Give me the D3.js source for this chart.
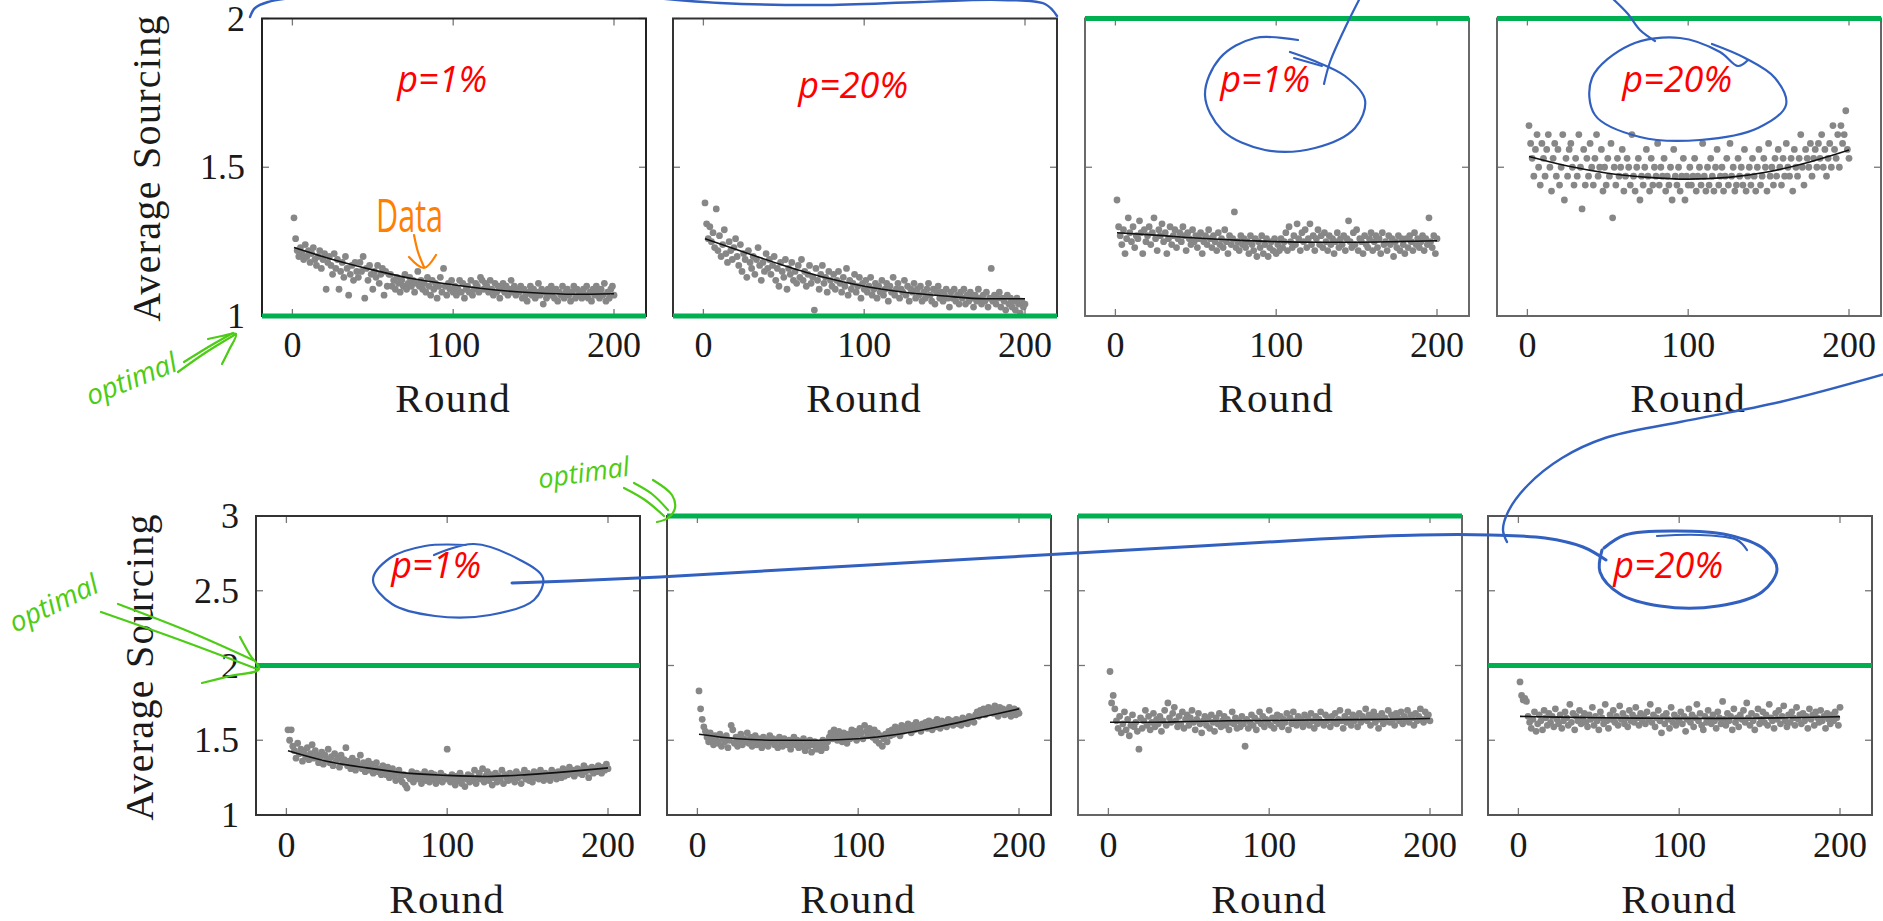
<!DOCTYPE html>
<html>
<head>
<meta charset="utf-8">
<script src="https://cdn.jsdelivr.net/npm/d3@7"></script>
<style>
  body { margin: 0; background: #fff; }
  svg { display: block; }
</style>
</head>
<body>
<svg id="chart" width="1883" height="921"></svg>
<script>
// ---- data ----
const rounds = d3.range(1, 201);
const xTicks = [0, 100, 200];
const topYTicks = [1, 1.5, 2];
const bottomYTicks = [1, 1.5, 2, 2.5, 3];
const trendRounds = [1, 25, 50, 75, 100, 125, 150, 175, 200];

// top row, average sourcing per round
const top1 = [
  1.33,1.26,1.22,1.20,1.23,1.21,1.19,1.24,1.20,1.22,1.18,1.21,1.23,1.19,1.17,1.20,1.22,1.16,1.19,1.21,
  1.09,1.18,1.20,1.17,1.14,1.21,1.16,1.19,1.09,1.15,1.18,1.13,1.20,1.16,1.07,1.14,1.17,1.12,1.18,1.15,
  1.13,1.18,1.15,1.20,1.06,1.16,1.12,1.17,1.14,1.09,1.15,1.13,1.17,1.11,1.14,1.16,1.07,1.15,1.10,1.14,
  1.14,1.10,1.12,1.09,1.13,1.11,1.08,1.12,1.10,1.14,1.09,1.11,1.13,1.10,1.12,1.08,1.11,1.15,1.10,1.12,
  1.09,1.11,1.08,1.13,1.10,1.07,1.12,1.09,1.11,1.06,1.10,1.13,1.08,1.16,1.10,1.07,1.11,1.09,1.12,1.08,
  1.10,1.07,1.09,1.12,1.08,1.11,1.06,1.09,1.10,1.08,1.12,1.07,1.09,1.11,1.10,1.08,1.13,1.12,1.09,1.11,
  1.10,1.08,1.12,1.09,1.07,1.11,1.08,1.10,1.06,1.09,1.11,1.08,1.10,1.07,1.09,1.12,1.08,1.10,1.07,1.09,
  1.08,1.10,1.06,1.09,1.07,1.05,1.08,1.10,1.07,1.09,1.06,1.08,1.11,1.07,1.09,1.04,1.08,1.06,1.09,1.07,
  1.10,1.08,1.06,1.09,1.05,1.08,1.07,1.10,1.06,1.08,1.09,1.07,1.05,1.08,1.10,1.06,1.09,1.07,1.08,1.06,
  1.09,1.07,1.10,1.06,1.08,1.05,1.09,1.07,1.10,1.08,1.06,1.09,1.07,1.11,1.05,1.08,1.06,1.09,1.10,1.07
];
const top2 = [
  1.38,1.31,1.26,1.30,1.25,1.28,1.23,1.36,1.22,1.27,1.20,1.24,1.29,1.21,1.18,1.25,1.22,1.19,1.23,1.26,
  1.20,1.17,1.24,1.15,1.21,1.19,1.13,1.22,1.18,1.16,1.20,1.14,1.19,1.23,1.17,1.12,1.18,1.15,1.21,1.16,
  1.19,1.14,1.17,1.20,1.12,1.16,1.10,1.18,1.15,1.13,1.19,1.09,1.16,1.14,1.18,1.12,1.15,1.11,1.17,1.13,
  1.19,1.12,1.15,1.10,1.14,1.17,1.11,1.13,1.02,1.16,1.12,1.09,1.14,1.17,1.11,1.13,1.08,1.15,1.12,1.10,
  1.14,1.09,1.12,1.15,1.11,1.08,1.13,1.10,1.16,1.07,1.12,1.09,1.11,1.14,1.08,1.10,1.13,1.06,1.11,1.09,
  1.12,1.08,1.10,1.13,1.07,1.09,1.11,1.06,1.10,1.08,1.12,1.07,1.09,1.11,1.05,1.10,1.08,1.13,1.07,1.09,
  1.11,1.06,1.09,1.08,1.12,1.07,1.10,1.05,1.09,1.08,1.11,1.06,1.09,1.07,1.10,1.05,1.08,1.06,1.09,1.11,
  1.07,1.05,1.09,1.04,1.08,1.10,1.06,1.08,1.05,1.07,1.09,1.06,1.03,1.08,1.06,1.09,1.05,1.07,1.04,1.08,
  1.06,1.09,1.04,1.07,1.05,1.08,1.06,1.03,1.07,1.05,1.09,1.06,1.04,1.07,1.05,1.08,1.03,1.06,1.16,1.05,
  1.07,1.04,1.06,1.08,1.03,1.06,1.05,1.02,1.07,1.04,1.06,1.03,1.05,1.02,1.06,1.04,1.01,1.05,1.03,1.04
];
const top3 = [
  1.39,1.30,1.27,1.24,1.29,1.21,1.26,1.33,1.28,1.25,1.30,1.23,1.27,1.26,1.32,1.28,1.21,1.29,1.25,1.27,
  1.30,1.24,1.28,1.33,1.26,1.22,1.29,1.27,1.31,1.25,1.28,1.21,1.26,1.30,1.24,1.27,1.29,1.23,1.26,1.28,
  1.25,1.30,1.27,1.22,1.28,1.26,1.24,1.29,1.25,1.27,1.23,1.26,1.28,1.21,1.25,1.27,1.24,1.29,1.26,1.23,
  1.27,1.25,1.22,1.28,1.24,1.26,1.23,1.29,1.25,1.21,1.27,1.24,1.26,1.35,1.23,1.25,1.22,1.27,1.24,1.26,
  1.23,1.25,1.21,1.27,1.24,1.22,1.26,1.20,1.25,1.23,1.27,1.21,1.24,1.26,1.20,1.23,1.25,1.22,1.26,1.21,
  1.24,1.22,1.26,1.23,1.25,1.28,1.22,1.30,1.25,1.23,1.27,1.24,1.31,1.26,1.22,1.28,1.25,1.29,1.23,1.26,
  1.31,1.24,1.27,1.22,1.26,1.29,1.24,1.27,1.23,1.28,1.25,1.22,1.27,1.24,1.26,1.21,1.25,1.28,1.23,1.26,
  1.24,1.27,1.22,1.26,1.32,1.25,1.23,1.28,1.24,1.29,1.22,1.26,1.25,1.21,1.27,1.24,1.23,1.26,1.28,1.22,
  1.25,1.27,1.23,1.26,1.21,1.28,1.24,1.25,1.22,1.27,1.24,1.26,1.20,1.25,1.23,1.27,1.22,1.26,1.24,1.21,
  1.26,1.23,1.27,1.25,1.22,1.28,1.24,1.26,1.23,1.25,1.27,1.22,1.26,1.24,1.33,1.25,1.23,1.27,1.21,1.26
];
const top4 = [
  1.64,1.58,1.53,1.47,1.56,1.61,1.50,1.44,1.58,1.53,1.47,1.56,1.61,1.50,1.42,1.53,1.58,1.47,1.56,1.44,
  1.50,1.61,1.39,1.53,1.47,1.56,1.58,1.50,1.44,1.53,1.47,1.61,1.50,1.36,1.56,1.44,1.53,1.47,1.58,1.50,
  1.44,1.53,1.61,1.47,1.50,1.56,1.42,1.50,1.44,1.53,1.47,1.58,1.33,1.50,1.44,1.53,1.47,1.50,1.56,1.42,
  1.47,1.53,1.50,1.44,1.61,1.47,1.42,1.50,1.53,1.39,1.47,1.44,1.50,1.56,1.47,1.42,1.53,1.44,1.50,1.47,
  1.58,1.44,1.50,1.47,1.53,1.42,1.47,1.44,1.50,1.39,1.56,1.47,1.44,1.50,1.42,1.47,1.53,1.39,1.47,1.44,
  1.50,1.44,1.47,1.53,1.42,1.47,1.50,1.44,1.58,1.47,1.42,1.50,1.44,1.53,1.47,1.42,1.50,1.56,1.44,1.47,
  1.50,1.42,1.47,1.53,1.44,1.58,1.47,1.50,1.42,1.44,1.53,1.47,1.50,1.44,1.56,1.42,1.47,1.50,1.44,1.53,
  1.47,1.42,1.50,1.56,1.44,1.47,1.53,1.50,1.42,1.58,1.47,1.50,1.44,1.53,1.47,1.56,1.50,1.44,1.53,1.47,
  1.58,1.50,1.47,1.53,1.42,1.56,1.50,1.47,1.53,1.61,1.50,1.44,1.56,1.53,1.50,1.58,1.47,1.53,1.56,1.50,
  1.58,1.53,1.61,1.50,1.56,1.47,1.53,1.58,1.50,1.64,1.56,1.53,1.61,1.50,1.64,1.58,1.61,1.69,1.56,1.53
];

// bottom row
const bottom1 = [
  1.57,1.50,1.57,1.46,1.43,1.38,1.48,1.41,1.44,1.36,1.42,1.39,1.45,1.37,1.41,1.47,1.38,1.43,1.40,1.35,
  1.39,1.42,1.34,1.40,1.37,1.44,1.35,1.39,1.33,1.41,1.36,1.38,1.32,1.40,1.35,1.37,1.45,1.33,1.36,1.31,
  1.38,1.34,1.30,1.36,1.33,1.40,1.31,1.35,1.29,1.33,1.36,1.30,1.34,1.28,1.32,1.35,1.29,1.31,1.27,1.33,
  1.30,1.27,1.32,1.25,1.29,1.31,1.26,1.23,1.28,1.30,1.25,1.22,1.27,1.20,1.18,1.26,1.24,1.29,1.22,1.26,
  1.28,1.24,1.27,1.21,1.25,1.29,1.23,1.26,1.22,1.28,1.24,1.27,1.21,1.25,1.23,1.28,1.22,1.26,1.24,1.44,
  1.25,1.22,1.27,1.24,1.20,1.26,1.23,1.28,1.21,1.25,1.19,1.24,1.27,1.22,1.26,1.23,1.30,1.21,1.25,1.28,
  1.24,1.31,1.22,1.26,1.29,1.23,1.27,1.20,1.25,1.28,1.22,1.26,1.24,1.30,1.21,1.27,1.25,1.23,1.28,1.24,
  1.26,1.22,1.29,1.25,1.27,1.21,1.26,1.30,1.24,1.28,1.23,1.26,1.22,1.29,1.25,1.27,1.24,1.30,1.26,1.23,
  1.28,1.25,1.27,1.23,1.30,1.26,1.28,1.24,1.29,1.27,1.25,1.31,1.26,1.29,1.27,1.32,1.28,1.30,1.26,1.29,
  1.31,1.28,1.30,1.27,1.33,1.29,1.31,1.25,1.30,1.32,1.28,1.31,1.29,1.33,1.30,1.28,1.32,1.30,1.34,1.31
];
const bottom2 = [
  1.83,1.71,1.64,1.59,1.56,1.52,1.49,1.55,1.51,1.47,1.53,1.50,1.48,1.54,1.46,1.51,1.49,1.53,1.45,1.50,
  1.60,1.57,1.48,1.52,1.46,1.50,1.54,1.47,1.51,1.49,1.55,1.48,1.52,1.46,1.50,1.53,1.47,1.51,1.49,1.45,
  1.52,1.48,1.50,1.46,1.53,1.49,1.51,1.47,1.50,1.45,1.52,1.48,1.46,1.51,1.49,1.47,1.50,1.44,1.48,1.52,
  1.47,1.50,1.45,1.49,1.46,1.51,1.43,1.48,1.46,1.50,1.42,1.47,1.49,1.44,1.48,1.46,1.43,1.50,1.47,1.45,
  1.49,1.52,1.55,1.51,1.57,1.54,1.50,1.56,1.53,1.49,1.55,1.52,1.48,1.54,1.51,1.57,1.53,1.56,1.50,1.54,
  1.58,1.55,1.51,1.60,1.56,1.53,1.58,1.54,1.52,1.57,1.50,1.55,1.48,1.53,1.46,1.51,1.54,1.49,1.56,1.53,
  1.57,1.54,1.59,1.55,1.58,1.53,1.60,1.56,1.59,1.57,1.61,1.58,1.55,1.60,1.57,1.62,1.58,1.60,1.56,1.61,
  1.59,1.62,1.58,1.63,1.60,1.57,1.62,1.59,1.64,1.61,1.58,1.63,1.60,1.62,1.59,1.64,1.61,1.63,1.60,1.62,
  1.64,1.61,1.63,1.60,1.65,1.62,1.64,1.61,1.66,1.63,1.65,1.62,1.67,1.69,1.66,1.70,1.68,1.71,1.67,1.70,
  1.72,1.69,1.71,1.68,1.73,1.70,1.66,1.72,1.69,1.71,1.67,1.70,1.68,1.72,1.66,1.69,1.71,1.67,1.70,1.68
];
const bottom3 = [
  1.96,1.75,1.80,1.71,1.63,1.58,1.66,1.55,1.61,1.69,1.57,1.64,1.53,1.60,1.67,1.59,1.62,1.56,1.44,1.65,
  1.58,1.63,1.70,1.60,1.66,1.57,1.62,1.68,1.59,1.64,1.61,1.66,1.56,1.63,1.70,1.60,1.75,1.65,1.62,1.68,
  1.72,1.63,1.59,1.66,1.61,1.69,1.58,1.64,1.67,1.60,1.65,1.70,1.62,1.57,1.64,1.68,1.61,1.55,1.63,1.66,
  1.60,1.64,1.58,1.67,1.62,1.56,1.65,1.61,1.68,1.59,1.63,1.66,1.60,1.64,1.57,1.62,1.69,1.61,1.65,1.58,
  1.63,1.59,1.66,1.61,1.46,1.64,1.58,1.62,1.67,1.60,1.65,1.57,1.63,1.69,1.61,1.66,1.59,1.64,1.62,1.70,
  1.60,1.65,1.58,1.63,1.67,1.61,1.66,1.59,1.64,1.62,1.68,1.57,1.65,1.61,1.69,1.63,1.60,1.66,1.62,1.64,
  1.59,1.67,1.62,1.65,1.60,1.68,1.63,1.58,1.66,1.61,1.64,1.69,1.62,1.60,1.67,1.63,1.65,1.59,1.66,1.62,
  1.68,1.61,1.64,1.70,1.63,1.58,1.66,1.62,1.69,1.64,1.60,1.67,1.63,1.65,1.59,1.68,1.62,1.66,1.64,1.71,
  1.63,1.67,1.60,1.65,1.69,1.62,1.66,1.58,1.64,1.68,1.61,1.65,1.63,1.70,1.62,1.67,1.64,1.60,1.68,1.65,
  1.63,1.69,1.61,1.66,1.64,1.70,1.62,1.67,1.65,1.60,1.68,1.63,1.66,1.71,1.64,1.62,1.69,1.65,1.67,1.63
];
const bottom4 = [
  1.89,1.80,1.77,1.78,1.76,1.66,1.62,1.58,1.64,1.69,1.56,1.61,1.67,1.63,1.57,1.70,1.65,1.60,1.68,1.62,
  1.66,1.59,1.71,1.64,1.61,1.67,1.58,1.63,1.69,1.65,1.60,1.74,1.62,1.68,1.57,1.66,1.63,1.70,1.61,1.65,
  1.68,1.62,1.59,1.67,1.64,1.72,1.60,1.66,1.63,1.57,1.69,1.65,1.61,1.74,1.63,1.58,1.67,1.64,1.70,1.62,
  1.66,1.60,1.73,1.64,1.68,1.61,1.65,1.59,1.70,1.63,1.67,1.62,1.72,1.65,1.60,1.68,1.63,1.66,1.61,1.69,
  1.64,1.74,1.62,1.67,1.59,1.65,1.70,1.63,1.55,1.66,1.61,1.68,1.64,1.58,1.72,1.62,1.67,1.60,1.65,1.63,
  1.69,1.61,1.66,1.56,1.64,1.71,1.62,1.67,1.59,1.65,1.74,1.63,1.68,1.60,1.57,1.66,1.62,1.70,1.64,1.61,
  1.67,1.63,1.58,1.69,1.65,1.61,1.76,1.64,1.60,1.68,1.63,1.66,1.57,1.71,1.62,1.65,1.59,1.67,1.64,1.70,
  1.62,1.75,1.65,1.60,1.68,1.63,1.57,1.66,1.71,1.61,1.64,1.69,1.62,1.67,1.60,1.74,1.65,1.63,1.58,1.68,
  1.64,1.70,1.61,1.66,1.73,1.63,1.59,1.67,1.62,1.69,1.65,1.60,1.72,1.64,1.67,1.61,1.68,1.63,1.66,1.58,
  1.71,1.64,1.67,1.60,1.69,1.65,1.62,1.70,1.63,1.66,1.58,1.68,1.64,1.61,1.67,1.63,1.69,1.65,1.60,1.72
];

// fitted trend, read at trendRounds
const top1Trend = [1.23, 1.19, 1.155, 1.125, 1.105, 1.088, 1.078, 1.073, 1.075];
const top2Trend = [1.26, 1.215, 1.17, 1.13, 1.10, 1.08, 1.067, 1.058, 1.058];
const top3Trend = [1.28, 1.272, 1.262, 1.255, 1.25, 1.248, 1.248, 1.25, 1.253];
const top4Trend = [1.536, 1.504, 1.48, 1.466, 1.46, 1.466, 1.485, 1.517, 1.558];
const bottom1Trend = [1.43, 1.36, 1.315, 1.28, 1.265, 1.258, 1.27, 1.29, 1.315];
const bottom2Trend = [1.54, 1.51, 1.50, 1.50, 1.51, 1.54, 1.59, 1.65, 1.71];
const bottom3Trend = [1.62, 1.62, 1.625, 1.63, 1.632, 1.635, 1.638, 1.64, 1.645];
const bottom4Trend = [1.66, 1.655, 1.65, 1.648, 1.646, 1.646, 1.648, 1.652, 1.657];

// optimal sourcing level (green line) per panel
const topOptimal = [1, 1, 2, 2];
const bottomOptimal = [2, 3, 3, 2];

// red panel notes
const topNotes = ["p=1%", "p=20%", "p=1%", "p=20%"];
const bottomNotes = ["p=1%", "", "", "p=20%"];

// ---- layout ----
const svg = d3.select("#chart");
const PANEL_W = 384;
const X_DOMAIN = [-18.9, 219.9];
const SERIF = "'Liberation Serif', 'DejaVu Serif', serif";
const GREEN = "#00b050";

const rows = [
  {
    top: 18.5, bottom: 316, lefts: [262, 673, 1085, 1497],
    yDomain: [1, 2], yTicks: topYTicks, tickBase: 357, titleBase: 412,
    yTitle: {x: 160, y: 168},
    series: [top1, top2, top3, top4],
    trends: [top1Trend, top2Trend, top3Trend, top4Trend],
    optimal: topOptimal, notes: topNotes, noteBase: [92, 98, 92, 92],
    frames: ["#222", "#333", "#6a6a6a", "#666"]
  },
  {
    top: 516, bottom: 815, lefts: [256, 667, 1078, 1488],
    yDomain: [1, 3], yTicks: bottomYTicks, tickBase: 857, titleBase: 913,
    yTitle: {x: 153, y: 667},
    series: [bottom1, bottom2, bottom3, bottom4],
    trends: [bottom1Trend, bottom2Trend, bottom3Trend, bottom4Trend],
    optimal: bottomOptimal, notes: bottomNotes, noteBase: [578, 578, 578, 578],
    frames: ["#333", "#444", "#666", "#555"]
  }
];

const defs = svg.append("defs");

rows.forEach((row, ri) => {
  const y = d3.scaleLinear().domain(row.yDomain).range([row.bottom, row.top]);

  row.lefts.forEach((left, pi) => {
    const x = d3.scaleLinear().domain(X_DOMAIN).range([left, left + PANEL_W]);
    const g = svg.append("g").attr("class", "panel");
    const clipId = `clip-${ri}-${pi}`;
    defs.append("clipPath").attr("id", clipId)
      .append("rect")
      .attr("x", left).attr("y", row.top)
      .attr("width", PANEL_W).attr("height", row.bottom - row.top);

    // scatter
    g.append("g").attr("clip-path", `url(#${clipId})`)
      .selectAll("circle")
      .data(row.series[pi])
      .join("circle")
      .attr("cx", (d, i) => x(rounds[i]))
      .attr("cy", d => y(d))
      .attr("r", 3.4)
      .attr("fill", "#878787");

    // trend
    const line = d3.line()
      .x((d, i) => x(trendRounds[i]))
      .y(d => y(d))
      .curve(d3.curveMonotoneX);
    g.append("path")
      .attr("d", line(row.trends[pi]))
      .attr("fill", "none")
      .attr("stroke", "#111")
      .attr("stroke-width", 1.6);

    // ticks, inside on all four sides
    const tickG = g.append("g").attr("stroke", "#777").attr("stroke-width", 1.3);
    xTicks.forEach(t => {
      tickG.append("line").attr("x1", x(t)).attr("x2", x(t)).attr("y1", row.bottom).attr("y2", row.bottom - 7);
      tickG.append("line").attr("x1", x(t)).attr("x2", x(t)).attr("y1", row.top).attr("y2", row.top + 7);
    });
    row.yTicks.forEach(t => {
      tickG.append("line").attr("x1", left).attr("x2", left + 7).attr("y1", y(t)).attr("y2", y(t));
      tickG.append("line").attr("x1", left + PANEL_W).attr("x2", left + PANEL_W - 7).attr("y1", y(t)).attr("y2", y(t));
    });

    // frame
    g.append("rect")
      .attr("x", left).attr("y", row.top)
      .attr("width", PANEL_W).attr("height", row.bottom - row.top)
      .attr("fill", "none")
      .attr("stroke", row.frames[pi])
      .attr("stroke-width", 2);

    // optimal level
    g.append("line")
      .attr("x1", left).attr("x2", left + PANEL_W)
      .attr("y1", y(row.optimal[pi])).attr("y2", y(row.optimal[pi]))
      .attr("stroke", GREEN)
      .attr("stroke-width", 5);

    // x tick labels
    g.selectAll("text.xt")
      .data(xTicks)
      .join("text")
      .attr("class", "xt")
      .attr("x", d => x(d))
      .attr("y", row.tickBase)
      .attr("text-anchor", "middle")
      .attr("font-family", SERIF)
      .attr("font-size", 36)
      .attr("fill", "#1a1a1a")
      .text(d => d);

    // x title
    g.append("text")
      .attr("x", x(100))
      .attr("y", row.titleBase)
      .attr("text-anchor", "middle")
      .attr("font-family", SERIF)
      .attr("font-size", 41)
      .attr("letter-spacing", 1.3)
      .attr("fill", "#1a1a1a")
      .text("Round");

    // y tick labels + title, first panel only
    if (pi === 0) {
      g.selectAll("text.yt")
        .data(row.yTicks)
        .join("text")
        .attr("class", "yt")
        .attr("x", left - 17)
        .attr("y", d => y(d))
        .attr("dy", "0.34em")
        .attr("text-anchor", "end")
        .attr("font-family", SERIF)
        .attr("font-size", 36)
        .attr("fill", "#1a1a1a")
        .text(d => d);

      g.append("text")
        .attr("transform", `translate(${row.yTitle.x},${row.yTitle.y}) rotate(-90)`)
        .attr("text-anchor", "middle")
        .attr("font-family", SERIF)
        .attr("font-size", 40)
        .attr("letter-spacing", 1.3)
        .attr("fill", "#1a1a1a")
        .text("Average Sourcing");
    }

    // red note
    if (row.notes[pi]) {
      g.append("text")
        .attr("x", x(100) - 11)
        .attr("y", row.noteBase[pi])
        .attr("text-anchor", "middle")
        .attr("font-family", "'Open Sans', 'Noto Sans', sans-serif")
        .attr("font-style", "italic")
        .attr("font-size", 36)
        .attr("fill", "#ff0000")
        .text(row.notes[pi]);
    }
  });
});

// ---- hand-drawn annotations ----
const hand = d3.line().curve(d3.curveCatmullRom.alpha(0.5));
const ink = svg.append("g").attr("class", "ink")
  .attr("fill", "none").attr("stroke-linecap", "round").attr("stroke-linejoin", "round");

function stroke(pts, color, w) {
  ink.append("path").attr("d", hand(pts)).attr("stroke", color).attr("stroke-width", w);
}

const BLUE = "#3160c0";
// braces over the first two panels
stroke([[250, 17], [255, 8], [268, 2], [300, -3]], BLUE, 2.4);
stroke([[655, -2], [720, 3], [820, 5], [920, 2], [1000, 0], [1045, 4], [1057, 16]], BLUE, 2.4);
// loop around third top note
stroke([[1298, 40], [1255, 38], [1220, 58], [1205, 95], [1222, 130], [1265, 150], [1315, 148],
        [1355, 128], [1365, 100], [1345, 76], [1312, 60], [1290, 52]], BLUE, 2.2);
stroke([[1294, 58], [1322, 66]], BLUE, 2);
stroke([[1324, 84], [1330, 62], [1345, 28], [1360, -2]], BLUE, 2.2);
// loop around fourth top note
stroke([[1612, -2], [1628, 14], [1640, 30], [1655, 41]], BLUE, 2.2);
stroke([[1748, 60], [1738, 66], [1720, 52], [1680, 38], [1630, 45], [1592, 78], [1595, 115],
        [1640, 137], [1700, 140], [1758, 128], [1786, 105], [1775, 78], [1745, 58], [1712, 44]], BLUE, 2.2);
// long connector at the right
stroke([[1885, 374], [1780, 402], [1680, 422], [1605, 438], [1562, 458], [1528, 485],
        [1508, 512], [1503, 530], [1507, 542]], BLUE, 2.4);
// loop around first bottom note, line across to last bottom note
stroke([[434, 555], [474, 544], [520, 560], [543, 578], [534, 600], [490, 615], [435, 616],
        [392, 604], [373, 580], [390, 558], [425, 546], [466, 545]], BLUE, 2.2);
stroke([[512, 583], [570, 581], [660, 577], [780, 570], [920, 562], [1060, 554], [1200, 546],
        [1320, 539], [1420, 535], [1490, 535], [1545, 538], [1583, 547], [1606, 560]], BLUE, 3);
stroke([[1602, 550], [1600, 572], [1620, 594], [1660, 606], [1718, 606], [1762, 592], [1777, 569],
        [1764, 549], [1728, 535], [1675, 531], [1625, 535], [1604, 548]], BLUE, 3);
stroke([[1657, 536], [1700, 535], [1737, 540], [1747, 550]], BLUE, 2.2);

// green "optimal" notes
const LIME = "#4ccc14";
function handText(txt, cx, cy, angle, size, color) {
  ink.append("text")
    .attr("transform", `translate(${cx},${cy}) rotate(${angle})`)
    .attr("text-anchor", "middle")
    .attr("font-family", "'Open Sans', 'Noto Sans', sans-serif")
    .attr("font-style", "italic")
    .attr("font-size", size)
    .attr("fill", color)
    .attr("stroke", "none")
    .text(txt);
}
handText("optimal", 135, 388, -22, 28, LIME);
stroke([[178, 372], [205, 353], [236, 334]], LIME, 2.2);
stroke([[184, 362], [210, 346], [233, 333]], LIME, 2.2);
stroke([[222, 364], [229, 350], [236, 334], [222, 336], [208, 339]], LIME, 2.2);

handText("optimal", 58, 612, -26, 28, LIME);
stroke([[101, 612], [180, 640], [257, 669]], LIME, 2.2);
stroke([[118, 604], [190, 632], [253, 660]], LIME, 2.2);
stroke([[240, 637], [250, 655], [259, 669], [230, 676], [202, 683]], LIME, 2.2);

handText("optimal", 585, 482, -8, 27, LIME);
stroke([[624, 488], [645, 500], [664, 516]], LIME, 2.2);
stroke([[634, 483], [652, 494], [668, 510]], LIME, 2.2);
stroke([[653, 480], [672, 495], [675, 508], [668, 518], [657, 522]], LIME, 2.2);

// orange "Data" note
const ORANGE = "#ff8000";
ink.append("text")
  .attr("x", 376).attr("y", 232)
  .attr("textLength", 67).attr("lengthAdjust", "spacingAndGlyphs")
  .attr("font-family", "'Open Sans', 'Noto Sans', sans-serif")
  .attr("font-size", 46)
  .attr("fill", ORANGE)
  .attr("stroke", "none")
  .text("Data");
stroke([[414, 235], [418, 252], [424, 267]], ORANGE, 2.2);
stroke([[409, 257], [424, 268], [436, 255]], ORANGE, 2.2);
</script>
</body>
</html>
